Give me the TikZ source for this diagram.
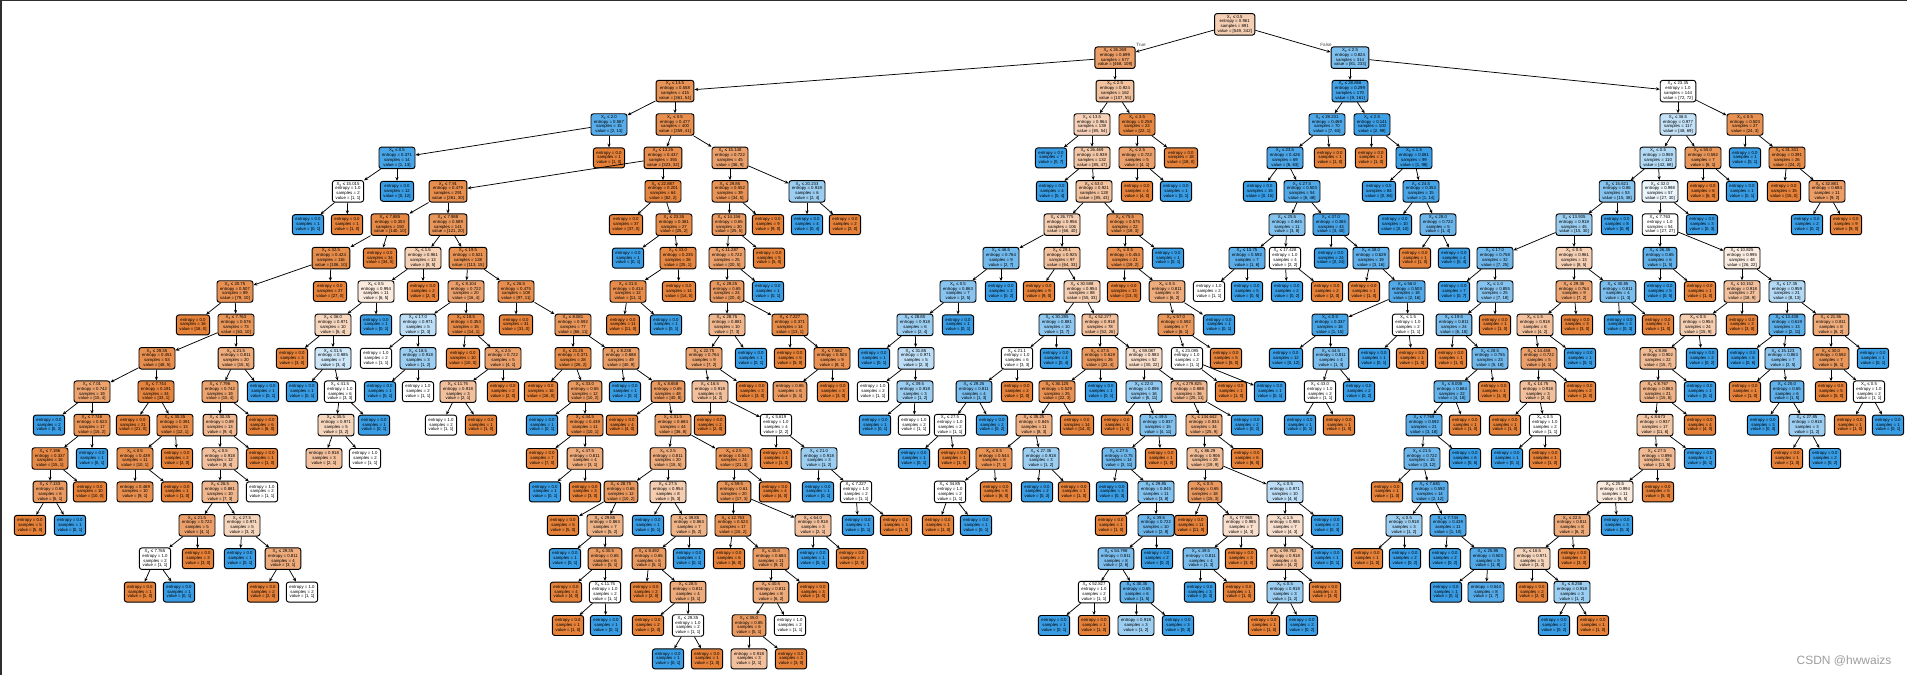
\documentclass[tikz,border=0pt]{standalone}
\usepackage{fontspec}
\setmainfont{Liberation Sans}
\usetikzlibrary{arrows.meta}
\definecolor{cA}{RGB}{229,129,57}
\definecolor{cB}{RGB}{57,157,229}
\newcommand\setfill[2]{%
  \ifnum#1>#2\relax
    \edef\pctv{\fpeval{round(100*(#1-#2)/#1,1)}}%
    \colorlet{nodefill}{cA!\pctv!white}%
  \else
    \ifnum#2>#1\relax
      \edef\pctv{\fpeval{round(100*(#2-#1)/#2,1)}}%
      \colorlet{nodefill}{cB!\pctv!white}%
    \else
      \colorlet{nodefill}{white}%
    \fi
  \fi}
\newcommand\entr[2]{%
  \ifnum\numexpr(#1)*(#2)\relax=0 0.0\else
    \edef\entv{\fpeval{round(-((#1)/(#1+#2)*ln((#1)/(#1+#2))+(#2)/(#1+#2)*ln((#2)/(#1+#2)))/ln(2),3)}}%
    \ifdim\entv pt=1pt 1.0\else\entv\fi
  \fi}
\tikzset{
  tbox/.style={draw=black, line width=0.95pt, rounded corners=2.5pt, inner xsep=3pt, inner ysep=0.8pt,
    align=center, font=\fontsize{4.3}{4.8}\selectfont, text=black},
  tinner/.style={minimum height=21.5pt},
  tleaf/.style={minimum height=20pt},
  tedge/.style={draw=black, line width=0.75pt, -{Stealth[length=3.8pt,width=3.2pt]}},
  tlab/.style={font=\fontsize{4.6}{5}\selectfont, text=black!75, inner sep=0pt}
}
\newcommand\TI[8]{%
  \setfill{#7}{#8}%
  \node[tbox,tinner,fill=nodefill] (n#1) at (#3,{24.3+33.4*#4})
    {X\textsubscript{#5} ≤ #6\\entropy = \entr{#7}{#8}\\samples = \the\numexpr#7+#8\relax\\value = [#7, #8]};%
  \draw[tedge] (n#2) -- (n#1);%
}
\newcommand\TL[6]{%
  \setfill{#5}{#6}%
  \node[tbox,tleaf,fill=nodefill] (n#1) at (#3,{24.3+33.4*#4})
    {entropy = \entr{#5}{#6}\\samples = \the\numexpr#5+#6\relax\\value = [#5, #6]};%
  \draw[tedge] (n#2) -- (n#1);%
}
\begin{document}
\begin{tikzpicture}[x=1pt,y=-1pt]
\useasboundingbox (0,0) rectangle (1907,675);
\fill[white] (0,0) rectangle (1907,675);
\fill[black!82] (0,0) rectangle (1907,1.2);
\fill[black!82] (0,0) rectangle (2,675);
\setfill{549}{342}%
\node[tbox,tinner,fill=nodefill] (n0) at (1234.7,24.3)
  {X\textsubscript{7} ≤ 0.5\\entropy = \entr{549}{342}\\samples = 891\\value = [549, 342]};
\TI{1}{0}{1115}{1}{4}{26.269}{468}{109}
\TI{2}{1}{675}{2}{2}{13.5}{361}{54}
\TI{3}{2}{609}{3}{3}{2.0}{2}{13}
\TI{4}{3}{397}{4}{6}{0.5}{1}{13}
\TI{5}{4}{348}{5}{4}{15.015}{1}{1}
\TL{6}{5}{308}{6}{0}{1}
\TL{7}{5}{347}{6}{1}{0}
\TL{8}{4}{397}{5}{0}{12}
\TL{9}{3}{609}{4}{1}{0}
\TI{10}{2}{675}{3}{1}{0.5}{359}{41}
\TI{11}{10}{663}{4}{4}{13.25}{323}{32}
\TI{12}{11}{448}{5}{4}{7.91}{261}{30}
\TI{13}{12}{390}{6}{4}{7.885}{140}{10}
\TI{14}{13}{331}{7}{2}{32.5}{106}{10}
\TI{15}{14}{235}{8}{2}{20.75}{79}{10}
\TL{16}{15}{193}{9}{16}{0}
\TI{17}{15}{236}{9}{4}{7.763}{63}{10}
\TI{18}{17}{157}{10}{2}{29.35}{48}{5}
\TI{19}{18}{92}{11}{4}{7.01}{15}{4}
\TL{20}{19}{49}{12}{0}{2}
\TI{21}{19}{92}{12}{4}{7.746}{15}{2}
\TI{22}{21}{50}{13}{4}{7.196}{15}{1}
\TI{23}{22}{50}{14}{4}{7.133}{5}{1}
\TL{24}{23}{30}{15}{5}{0}
\TL{25}{23}{70}{15}{0}{1}
\TL{26}{22}{90}{14}{10}{0}
\TL{27}{21}{92}{13}{0}{1}
\TI{28}{18}{156}{11}{4}{7.744}{33}{1}
\TL{29}{28}{133}{12}{21}{0}
\TI{30}{28}{175}{12}{2}{30.35}{12}{1}
\TI{31}{30}{135}{13}{3}{0.5}{10}{1}
\TL{32}{31}{135}{14}{9}{1}
\TL{33}{31}{177}{14}{1}{0}
\TL{34}{30}{177}{13}{2}{0}
\TI{35}{17}{236}{10}{2}{21.5}{15}{5}
\TI{36}{35}{220}{11}{4}{7.796}{15}{4}
\TI{37}{36}{220}{12}{2}{30.35}{9}{4}
\TI{38}{37}{220}{13}{3}{0.5}{8}{4}
\TI{39}{38}{220}{14}{2}{26.5}{7}{3}
\TI{40}{39}{197}{15}{2}{21.5}{4}{1}
\TI{41}{40}{155}{16}{4}{7.765}{1}{1}
\TL{42}{41}{140}{17}{1}{0}
\TL{43}{41}{179}{17}{0}{1}
\TL{44}{40}{198}{16}{3}{0}
\TI{45}{39}{242}{15}{2}{27.5}{3}{2}
\TL{46}{45}{240}{16}{0}{1}
\TI{47}{45}{283}{16}{2}{29.35}{3}{1}
\TL{48}{47}{263}{17}{2}{0}
\TL{49}{47}{302}{17}{1}{1}
\TL{50}{38}{262}{14}{1}{1}
\TL{51}{37}{262}{13}{1}{0}
\TL{52}{36}{262}{12}{6}{0}
\TL{53}{35}{263}{11}{0}{1}
\TL{54}{14}{330}{8}{27}{0}
\TL{55}{13}{380}{7}{34}{0}
\TI{56}{12}{448}{6}{4}{7.988}{121}{20}
\TI{57}{56}{423}{7}{5}{1.5}{8}{5}
\TI{58}{57}{376}{8}{5}{0.5}{6}{5}
\TI{59}{58}{333}{9}{2}{36.0}{6}{4}
\TL{60}{59}{292}{10}{3}{0}
\TI{61}{59}{333}{10}{2}{31.5}{3}{4}
\TL{62}{61}{302}{11}{0}{1}
\TI{63}{61}{340}{11}{2}{41.5}{3}{3}
\TI{64}{63}{336}{12}{2}{35.5}{3}{2}
\TL{65}{64}{324}{13}{2}{1}
\TL{66}{64}{365}{13}{1}{1}
\TL{67}{63}{374}{12}{0}{1}
\TL{68}{58}{376}{9}{0}{1}
\TL{69}{57}{423}{8}{2}{0}
\TI{70}{56}{468}{7}{2}{19.5}{113}{15}
\TI{71}{70}{466}{8}{4}{8.104}{16}{4}
\TI{72}{71}{418}{9}{2}{17.0}{2}{3}
\TL{73}{72}{376}{10}{1}{1}
\TI{74}{72}{418}{10}{2}{18.5}{1}{2}
\TL{75}{74}{380}{11}{0}{1}
\TL{76}{74}{418}{11}{1}{1}
\TI{77}{71}{466}{9}{2}{18.5}{14}{1}
\TL{78}{77}{463}{10}{10}{0}
\TI{79}{77}{503}{10}{3}{2.5}{4}{1}
\TI{80}{79}{458}{11}{4}{11.75}{2}{1}
\TL{81}{80}{441}{12}{1}{1}
\TL{82}{80}{481}{12}{1}{0}
\TL{83}{79}{503}{11}{2}{0}
\TI{84}{70}{516}{8}{2}{26.5}{97}{11}
\TL{85}{84}{516}{9}{31}{0}
\TI{86}{84}{573}{9}{4}{8.081}{66}{11}
\TI{87}{86}{573}{10}{2}{21.25}{26}{2}
\TL{88}{87}{541}{11}{16}{0}
\TI{89}{87}{585}{11}{2}{33.0}{10}{2}
\TL{90}{89}{542}{12}{0}{1}
\TI{91}{89}{585}{12}{2}{44.5}{10}{1}
\TL{92}{91}{542}{13}{7}{0}
\TI{93}{91}{585}{13}{2}{47.5}{3}{1}
\TL{94}{93}{545}{14}{0}{1}
\TL{95}{93}{585}{14}{3}{0}
\TI{96}{86}{621}{10}{4}{8.238}{40}{9}
\TL{97}{96}{625}{11}{0}{1}
\TI{98}{96}{668}{11}{4}{8.658}{40}{8}
\TL{99}{98}{622}{12}{4}{0}
\TI{100}{98}{673}{12}{2}{31.5}{36}{8}
\TI{101}{100}{668}{13}{3}{2.5}{15}{5}
\TI{102}{101}{621}{14}{2}{28.75}{10}{2}
\TL{103}{102}{563}{15}{5}{0}
\TI{104}{102}{605}{15}{2}{29.85}{5}{2}
\TL{105}{104}{565}{16}{0}{1}
\TI{106}{104}{605}{16}{2}{30.5}{5}{1}
\TL{107}{106}{566}{17}{4}{0}
\TI{108}{106}{605}{17}{4}{11.75}{1}{1}
\TL{109}{108}{568}{18}{1}{0}
\TL{110}{108}{606}{18}{0}{1}
\TI{111}{101}{668}{14}{2}{27.5}{5}{3}
\TL{112}{111}{648}{15}{0}{1}
\TI{113}{111}{689}{15}{2}{39.85}{5}{2}
\TI{114}{113}{649}{16}{4}{8.492}{5}{1}
\TL{115}{114}{646}{17}{2}{0}
\TI{116}{114}{688}{17}{2}{28.5}{3}{1}
\TL{117}{116}{648}{18}{2}{0}
\TI{118}{116}{688}{18}{2}{29.35}{1}{1}
\TL{119}{118}{668}{19}{0}{1}
\TL{120}{118}{707}{19}{1}{0}
\TL{121}{113}{689}{16}{0}{1}
\TI{122}{100}{734}{13}{3}{2.5}{21}{3}
\TI{123}{122}{734}{14}{2}{59.5}{17}{3}
\TI{124}{123}{733}{15}{4}{12.763}{15}{2}
\TL{125}{124}{729}{16}{6}{0}
\TI{126}{124}{771}{16}{2}{45.0}{9}{2}
\TI{127}{126}{771}{17}{2}{40.5}{6}{2}
\TI{128}{127}{749}{18}{2}{35.0}{5}{1}
\TL{129}{128}{749}{19}{2}{1}
\TL{130}{128}{791}{19}{3}{0}
\TL{131}{127}{790}{18}{1}{1}
\TL{132}{126}{813}{17}{3}{0}
\TI{133}{123}{813}{15}{2}{64.0}{2}{1}
\TL{134}{133}{813}{16}{0}{1}
\TL{135}{133}{852}{16}{2}{0}
\TL{136}{122}{775}{14}{4}{0}
\TI{137}{11}{663}{5}{4}{22.887}{62}{2}
\TL{138}{137}{626}{6}{37}{0}
\TI{139}{137}{674}{6}{4}{23.35}{25}{2}
\TL{140}{139}{628}{7}{0}{1}
\TI{141}{139}{678}{7}{2}{33.0}{25}{1}
\TI{142}{141}{628}{8}{2}{31.5}{11}{1}
\TL{143}{142}{623}{9}{11}{0}
\TL{144}{142}{666}{9}{0}{1}
\TL{145}{141}{679}{8}{14}{0}
\TI{146}{10}{730}{4}{4}{15.148}{36}{9}
\TI{147}{146}{730}{5}{2}{29.85}{34}{5}
\TI{148}{147}{729}{6}{4}{14.156}{25}{5}
\TI{149}{148}{727}{7}{4}{11.287}{20}{5}
\TI{150}{149}{727}{8}{2}{29.25}{20}{4}
\TI{151}{150}{727}{9}{2}{28.75}{7}{3}
\TI{152}{151}{704}{10}{2}{22.75}{7}{2}
\TI{153}{152}{710}{11}{2}{16.5}{4}{2}
\TL{154}{153}{710}{12}{2}{0}
\TI{155}{153}{776}{12}{4}{5.619}{2}{2}
\TL{156}{155}{776}{13}{1}{0}
\TI{157}{155}{819}{13}{2}{21.0}{1}{2}
\TL{158}{157}{818}{14}{0}{1}
\TI{159}{157}{856}{14}{4}{7.227}{1}{1}
\TL{160}{159}{858}{15}{0}{1}
\TL{161}{159}{896}{15}{1}{0}
\TL{162}{152}{752}{11}{3}{0}
\TL{163}{151}{751}{10}{0}{1}
\TI{164}{150}{790}{9}{4}{7.227}{13}{1}
\TL{165}{164}{790}{10}{5}{0}
\TI{166}{164}{832}{10}{4}{7.562}{8}{1}
\TL{167}{166}{790}{11}{5}{1}
\TL{168}{166}{833}{11}{3}{0}
\TL{169}{149}{768}{8}{0}{1}
\TL{170}{148}{769}{7}{5}{0}
\TL{171}{147}{768}{6}{9}{0}
\TI{172}{146}{807}{5}{4}{20.233}{2}{4}
\TL{173}{172}{807}{6}{0}{4}
\TL{174}{172}{845}{6}{2}{0}
\TI{175}{1}{1115}{2}{0}{2.5}{107}{55}
\TI{176}{175}{1092}{3}{2}{13.5}{85}{54}
\TL{177}{176}{1051}{4}{0}{7}
\TI{178}{176}{1092}{4}{4}{26.469}{85}{47}
\TL{179}{178}{1052}{5}{0}{4}
\TI{180}{178}{1094}{5}{2}{53.0}{85}{43}
\TI{181}{180}{1062}{6}{4}{26.775}{66}{40}
\TI{182}{181}{1001}{7}{2}{46.5}{2}{7}
\TI{183}{182}{958}{8}{3}{0.5}{2}{5}
\TI{184}{183}{915}{9}{2}{28.85}{2}{4}
\TL{185}{184}{874}{10}{0}{1}
\TI{186}{184}{916}{10}{2}{31.85}{2}{3}
\TL{187}{186}{873}{11}{1}{1}
\TI{188}{186}{915}{11}{2}{39.5}{1}{2}
\TL{189}{188}{875}{12}{0}{1}
\TL{190}{188}{914}{12}{1}{1}
\TL{191}{183}{958}{9}{0}{1}
\TL{192}{182}{1001}{8}{0}{2}
\TI{193}{181}{1062}{7}{4}{29.1}{64}{33}
\TL{194}{193}{1039}{8}{9}{0}
\TI{195}{193}{1082}{8}{4}{30.598}{55}{33}
\TI{196}{195}{1057}{9}{4}{30.285}{3}{7}
\TI{197}{196}{1017}{10}{2}{21.1}{3}{3}
\TI{198}{197}{974}{11}{2}{29.25}{1}{3}
\TI{199}{198}{950}{12}{2}{27.5}{1}{1}
\TL{200}{199}{914}{13}{0}{1}
\TL{201}{199}{954}{13}{1}{0}
\TL{202}{198}{992}{12}{0}{2}
\TL{203}{197}{1017}{11}{2}{0}
\TL{204}{196}{1056}{10}{0}{4}
\TI{205}{195}{1100}{9}{4}{52.277}{52}{26}
\TI{206}{205}{1100}{10}{2}{47.5}{22}{4}
\TI{207}{206}{1057}{11}{4}{36.125}{22}{3}
\TI{208}{207}{1034}{12}{4}{35.25}{8}{3}
\TI{209}{208}{994}{13}{3}{0.5}{7}{1}
\TI{210}{209}{950}{14}{2}{34.85}{1}{1}
\TL{211}{210}{938}{15}{1}{0}
\TL{212}{210}{976}{15}{0}{1}
\TL{213}{209}{996}{14}{6}{0}
\TI{214}{208}{1041}{13}{2}{27.35}{1}{2}
\TL{215}{214}{1037}{14}{0}{2}
\TL{216}{214}{1074}{14}{1}{0}
\TL{217}{207}{1077}{12}{14}{0}
\TL{218}{206}{1101}{11}{0}{1}
\TI{219}{205}{1144}{10}{4}{59.087}{30}{22}
\TI{220}{219}{1144}{11}{2}{22.0}{5}{11}
\TL{221}{220}{1117}{12}{1}{0}
\TI{222}{220}{1158}{12}{2}{49.5}{4}{11}
\TI{223}{222}{1119}{13}{2}{27.5}{3}{11}
\TL{224}{223}{1112}{14}{0}{3}
\TI{225}{223}{1156}{14}{2}{29.85}{3}{8}
\TL{226}{225}{1111}{15}{1}{0}
\TI{227}{225}{1156}{15}{2}{39.5}{2}{8}
\TI{228}{227}{1116}{16}{4}{54.798}{2}{6}
\TI{229}{228}{1094}{17}{4}{52.827}{1}{1}
\TL{230}{229}{1054}{18}{0}{1}
\TL{231}{229}{1094}{18}{1}{0}
\TI{232}{228}{1137}{17}{2}{30.35}{1}{5}
\TL{233}{232}{1136}{18}{1}{2}
\TL{234}{232}{1178}{18}{0}{3}
\TL{235}{227}{1157}{16}{0}{2}
\TL{236}{222}{1161}{13}{1}{0}
\TI{237}{219}{1189}{11}{4}{279.825}{25}{11}
\TI{238}{237}{1204}{12}{4}{134.642}{25}{9}
\TI{239}{238}{1205}{13}{4}{86.29}{19}{9}
\TI{240}{239}{1205}{14}{1}{0.5}{15}{3}
\TL{241}{240}{1191}{15}{11}{0}
\TI{242}{240}{1241}{15}{4}{77.965}{4}{3}
\TI{243}{242}{1201}{16}{2}{49.5}{1}{3}
\TL{244}{243}{1200}{17}{0}{3}
\TL{245}{243}{1239}{17}{1}{0}
\TL{246}{242}{1241}{16}{3}{0}
\TI{247}{239}{1285}{14}{3}{0.5}{4}{6}
\TI{248}{247}{1285}{15}{3}{1.5}{4}{3}
\TI{249}{248}{1285}{16}{4}{99.762}{4}{2}
\TI{250}{249}{1285}{17}{1}{0.5}{1}{2}
\TL{251}{250}{1264}{18}{1}{0}
\TL{252}{250}{1302}{18}{0}{2}
\TL{253}{249}{1325}{17}{3}{0}
\TL{254}{248}{1327}{16}{0}{1}
\TL{255}{247}{1327}{15}{0}{3}
\TL{256}{238}{1247}{13}{6}{0}
\TL{257}{237}{1247}{12}{0}{2}
\TI{258}{180}{1125}{6}{2}{75.5}{19}{3}
\TI{259}{258}{1125}{7}{1}{0.5}{19}{2}
\TL{260}{259}{1124}{8}{13}{0}
\TI{261}{259}{1167}{8}{3}{0.5}{6}{2}
\TI{262}{261}{1176}{9}{2}{57.0}{6}{1}
\TI{263}{262}{1187}{10}{4}{23.095}{1}{1}
\TL{264}{263}{1231}{11}{1}{0}
\TL{265}{263}{1270}{11}{0}{1}
\TL{266}{262}{1226}{10}{5}{0}
\TL{267}{261}{1219}{9}{0}{1}
\TL{268}{258}{1168}{7}{0}{1}
\TI{269}{175}{1137}{3}{2}{3.5}{22}{1}
\TI{270}{269}{1137}{4}{3}{2.5}{4}{1}
\TL{271}{270}{1137}{5}{4}{0}
\TL{272}{270}{1176}{5}{0}{1}
\TL{273}{269}{1181}{4}{18}{0}
\TI{274}{0}{1350}{1}{0}{2.5}{81}{233}
\TI{275}{274}{1350}{2}{4}{28.856}{9}{161}
\TI{276}{275}{1327}{3}{4}{28.231}{7}{63}
\TI{277}{276}{1285}{4}{2}{23.5}{6}{63}
\TL{278}{277}{1260}{5}{0}{15}
\TI{279}{277}{1302}{5}{2}{27.5}{6}{48}
\TI{280}{279}{1287}{6}{2}{25.5}{3}{8}
\TI{281}{280}{1247}{7}{4}{13.75}{1}{6}
\TL{282}{281}{1209}{8}{1}{1}
\TL{283}{281}{1247}{8}{0}{5}
\TI{284}{280}{1285}{7}{4}{17.428}{2}{2}
\TL{285}{284}{1287}{8}{0}{2}
\TL{286}{284}{1327}{8}{2}{0}
\TI{287}{279}{1331}{6}{2}{37.0}{3}{40}
\TL{288}{287}{1331}{7}{0}{24}
\TI{289}{287}{1371}{7}{2}{38.0}{3}{16}
\TL{290}{289}{1364}{8}{1}{0}
\TI{291}{289}{1407}{8}{2}{56.0}{2}{16}
\TI{292}{291}{1330}{9}{3}{0.5}{1}{15}
\TL{293}{292}{1286}{10}{0}{12}
\TI{294}{292}{1331}{10}{2}{44.5}{1}{3}
\TI{295}{294}{1320}{11}{2}{43.0}{1}{1}
\TL{296}{295}{1300}{12}{0}{1}
\TL{297}{295}{1339}{12}{1}{0}
\TL{298}{294}{1359}{11}{0}{2}
\TI{299}{291}{1408}{9}{3}{1.5}{1}{1}
\TL{300}{299}{1374}{10}{0}{1}
\TL{301}{299}{1412}{10}{1}{0}
\TL{302}{276}{1330}{4}{1}{0}
\TI{303}{275}{1372}{3}{2}{2.5}{2}{98}
\TL{304}{303}{1371}{4}{1}{0}
\TI{305}{303}{1414}{4}{3}{1.5}{1}{98}
\TL{306}{305}{1379}{5}{0}{84}
\TI{307}{305}{1421}{5}{2}{24.5}{1}{14}
\TL{308}{307}{1395}{6}{0}{10}
\TI{309}{307}{1438}{6}{2}{28.0}{1}{4}
\TL{310}{309}{1415}{7}{1}{0}
\TL{311}{309}{1454}{7}{0}{4}
\TI{312}{274}{1678}{2}{4}{23.35}{72}{72}
\TI{313}{312}{1678}{3}{2}{36.5}{48}{69}
\TI{314}{313}{1658}{4}{1}{0.5}{42}{68}
\TI{315}{314}{1617}{5}{4}{15.621}{15}{38}
\TI{316}{315}{1574}{6}{4}{13.935}{15}{30}
\TI{317}{316}{1495}{7}{2}{17.0}{7}{25}
\TL{318}{317}{1454}{8}{0}{7}
\TI{319}{317}{1495}{8}{3}{1.0}{7}{18}
\TI{320}{319}{1454}{9}{2}{19.5}{6}{18}
\TL{321}{320}{1451}{10}{1}{0}
\TI{322}{320}{1490}{10}{2}{28.5}{5}{18}
\TI{323}{322}{1452}{11}{4}{8.008}{4}{18}
\TI{324}{323}{1424}{12}{4}{7.769}{3}{18}
\TI{325}{324}{1422}{13}{2}{21.5}{3}{12}
\TL{326}{325}{1387}{14}{1}{0}
\TI{327}{325}{1430}{14}{4}{7.681}{2}{12}
\TI{328}{327}{1404}{15}{1}{0.5}{1}{2}
\TL{329}{328}{1367}{16}{1}{0}
\TL{330}{328}{1405}{16}{0}{2}
\TI{331}{327}{1448}{15}{4}{7.744}{1}{10}
\TL{332}{331}{1445}{16}{0}{2}
\TI{333}{331}{1488}{16}{2}{25.85}{1}{8}
\TL{334}{333}{1446}{17}{0}{1}
\TL{335}{333}{1486}{17}{1}{7}
\TL{336}{324}{1465}{13}{0}{6}
\TL{337}{323}{1465}{12}{1}{0}
\TL{338}{322}{1494}{11}{1}{0}
\TL{339}{319}{1495}{9}{1}{0}
\TI{340}{316}{1574}{7}{1}{0.5}{8}{5}
\TI{341}{340}{1574}{8}{2}{29.35}{7}{2}
\TI{342}{341}{1535}{9}{3}{1.5}{4}{2}
\TI{343}{342}{1539}{10}{4}{14.458}{4}{1}
\TI{344}{343}{1538}{11}{2}{14.75}{2}{1}
\TL{345}{344}{1505}{12}{1}{0}
\TI{346}{344}{1545}{12}{3}{0.5}{1}{1}
\TL{347}{346}{1507}{13}{0}{1}
\TL{348}{346}{1545}{13}{1}{0}
\TL{349}{343}{1580}{11}{2}{0}
\TL{350}{342}{1580}{10}{0}{1}
\TL{351}{341}{1577}{9}{3}{0}
\TI{352}{340}{1618}{8}{2}{30.85}{1}{3}
\TL{353}{352}{1620}{9}{0}{3}
\TL{354}{352}{1658}{9}{1}{0}
\TL{355}{315}{1617}{6}{0}{8}
\TI{356}{314}{1660}{5}{2}{32.0}{27}{30}
\TI{357}{356}{1660}{6}{4}{7.763}{27}{27}
\TI{358}{357}{1660}{7}{2}{26.35}{1}{5}
\TL{359}{358}{1660}{8}{0}{5}
\TL{360}{358}{1700}{8}{1}{0}
\TI{361}{357}{1742}{7}{4}{10.825}{26}{22}
\TI{362}{361}{1742}{8}{4}{10.152}{18}{9}
\TI{363}{362}{1698}{9}{3}{0.5}{15}{9}
\TI{364}{363}{1658}{10}{4}{8.86}{15}{7}
\TI{365}{364}{1658}{11}{4}{8.767}{15}{6}
\TI{366}{365}{1655}{12}{4}{8.673}{11}{6}
\TI{367}{366}{1657}{13}{2}{27.5}{11}{5}
\TI{368}{367}{1615}{14}{2}{25.5}{6}{5}
\TI{369}{368}{1572}{15}{2}{22.5}{6}{2}
\TI{370}{369}{1532}{16}{2}{16.5}{3}{2}
\TL{371}{370}{1532}{17}{2}{0}
\TI{372}{370}{1572}{17}{4}{8.258}{1}{2}
\TL{373}{372}{1554}{18}{0}{2}
\TL{374}{372}{1593}{18}{1}{0}
\TL{375}{369}{1574}{16}{3}{0}
\TL{376}{368}{1617}{15}{0}{3}
\TL{377}{367}{1658}{14}{5}{0}
\TL{378}{366}{1700}{13}{0}{1}
\TL{379}{365}{1700}{12}{4}{0}
\TL{380}{364}{1700}{11}{0}{1}
\TL{381}{363}{1702}{10}{0}{2}
\TL{382}{362}{1742}{9}{3}{0}
\TI{383}{361}{1787}{8}{4}{17.35}{8}{13}
\TI{384}{383}{1787}{9}{4}{13.438}{2}{11}
\TL{385}{384}{1743}{10}{0}{6}
\TI{386}{384}{1783}{10}{4}{15.123}{2}{5}
\TL{387}{386}{1745}{11}{1}{0}
\TI{388}{386}{1787}{11}{2}{25.0}{1}{5}
\TL{389}{388}{1763}{12}{0}{3}
\TI{390}{388}{1807}{12}{2}{27.85}{1}{2}
\TL{391}{390}{1787}{13}{1}{0}
\TL{392}{390}{1825}{13}{0}{2}
\TI{393}{383}{1831}{9}{2}{21.55}{6}{2}
\TI{394}{393}{1831}{10}{2}{30.0}{6}{1}
\TL{395}{394}{1831}{11}{5}{0}
\TI{396}{394}{1869}{11}{3}{0.5}{1}{1}
\TL{397}{396}{1850}{12}{1}{0}
\TL{398}{396}{1888}{12}{0}{1}
\TL{399}{393}{1873}{10}{0}{1}
\TL{400}{356}{1702}{6}{0}{3}
\TI{401}{313}{1703}{4}{2}{55.0}{6}{1}
\TL{402}{401}{1703}{5}{6}{0}
\TL{403}{401}{1742}{5}{0}{1}
\TI{404}{312}{1745}{3}{3}{0.5}{24}{3}
\TL{405}{404}{1745}{4}{0}{1}
\TI{406}{404}{1787}{4}{4}{31.331}{24}{2}
\TL{407}{406}{1784}{5}{15}{0}
\TI{408}{406}{1827}{5}{4}{32.881}{9}{2}
\TL{409}{408}{1807}{6}{0}{2}
\TL{410}{408}{1846}{6}{9}{0}
\node[tlab] (lbtrue) at (1141,45) {True};
\node[tlab] (lbfalse) at (1326,45) {False};
\node[font=\fontsize{12}{14}\selectfont, text=black!38, inner sep=0pt] (wm) at (1844,661) {CSDN @hwwaizs};
\end{tikzpicture}
\end{document}
